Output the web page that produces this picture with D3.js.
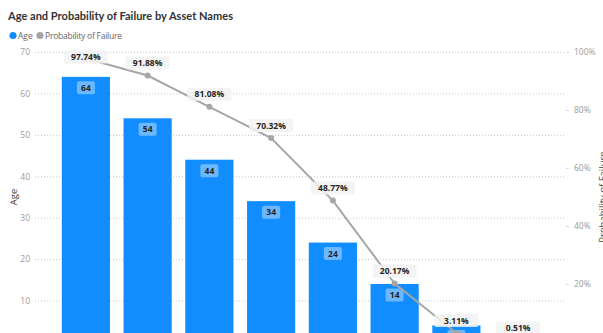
<!DOCTYPE html>
<html>
<head>
<meta charset="utf-8">
<script src="https://cdn.jsdelivr.net/npm/d3@7/dist/d3.min.js"></script>
<style>
  html, body { margin: 0; padding: 0; background: #fff; overflow: hidden; }
  svg { display: block; font-family: "Open Sans", "Noto Sans", sans-serif; }
</style>
</head>
<body>
<svg id="chart" width="603" height="333"></svg>
<script>
// Assets, ordered by age
const assetNames = ["Asset A", "Asset B", "Asset C", "Asset D", "Asset E", "Asset F", "Asset G", "Asset H"];
const ageValues = [64, 54, 44, 34, 24, 14, 4, 0];
const failureProb = [0.9774, 0.9188, 0.8108, 0.7032, 0.4877, 0.2017, 0.0311, 0.0051];
const ageTicks = [10, 20, 30, 40, 50, 60, 70];
const probTicks = [0.2, 0.4, 0.6, 0.8, 1.0];

const svg = d3.select("#chart");
const plot = { left: 35, right: 566, top: 52, bottom: 342 };

const x = d3.scaleBand()
  .domain(assetNames)
  .range([55, 549])
  .paddingInner(0.22)
  .paddingOuter(0.11);

const yAge = d3.scaleLinear().domain([0, 70]).range([plot.bottom, plot.top]);
const yProb = d3.scaleLinear().domain([0, 1]).range([plot.bottom, plot.top]);

// Title and legend
svg.append("text")
  .attr("x", 8).attr("y", 20)
  .attr("font-family", "Lato, sans-serif")
  .attr("font-size", 12).attr("font-weight", 700)
  .attr("fill", "#333")
  .attr("textLength", 225).attr("lengthAdjust", "spacingAndGlyphs")
  .text("Age and Probability of Failure by Asset Names");

const legend = svg.append("g").attr("font-size", 8.5).attr("fill", "#666");
legend.append("circle").attr("cx", 13).attr("cy", 35.5).attr("r", 3.6).attr("fill", "#118DFF");
legend.append("text").attr("x", 18).attr("y", 38.5).text("Age");
legend.append("circle").attr("cx", 40).attr("cy", 35.5).attr("r", 3.6).attr("fill", "#A6A6A6");
legend.append("text").attr("x", 45).attr("y", 38.5).attr("textLength", 77).text("Probability of Failure");

// Left axis with dotted gridlines
const leftAxis = svg.append("g")
  .attr("transform", `translate(${plot.left},0)`)
  .call(d3.axisLeft(yAge).tickValues(ageTicks).tickSize(-(plot.right - plot.left)).tickPadding(5));
leftAxis.select(".domain").remove();
leftAxis.selectAll(".tick line")
  .attr("stroke", "#c8c8c8")
  .attr("stroke-dasharray", "1,2");
leftAxis.selectAll(".tick text")
  .attr("fill", "#9a9a9a")
  .attr("font-size", 8.5)
  .attr("font-family", "\"Open Sans\", sans-serif");

// Right axis
const rightAxis = svg.append("g")
  .attr("transform", `translate(${plot.right},0)`)
  .call(d3.axisRight(yProb).tickValues(probTicks).tickSize(3).tickPadding(5).tickFormat(d3.format(".0%")));
rightAxis.select(".domain").remove();
rightAxis.selectAll(".tick line").attr("stroke", "#dcdcdc");
rightAxis.selectAll(".tick text")
  .attr("fill", "#9a9a9a")
  .attr("font-size", 8.5)
  .attr("font-family", "\"Open Sans\", sans-serif");

// Axis titles
svg.append("text")
  .attr("transform", `translate(17,${(plot.top + plot.bottom) / 2}) rotate(-90)`)
  .attr("text-anchor", "middle")
  .attr("font-size", 9.5).attr("fill", "#444")
  .text("Age");
svg.append("text")
  .attr("transform", `translate(606,${(plot.top + plot.bottom) / 2}) rotate(-90)`)
  .attr("text-anchor", "middle")
  .attr("font-size", 9.5).attr("fill", "#444")
  .text("Probability of Failure");

// Bars
svg.append("g").selectAll("rect")
  .data(ageValues)
  .join("rect")
  .attr("x", (d, i) => x(assetNames[i]))
  .attr("y", d => yAge(d))
  .attr("width", x.bandwidth())
  .attr("height", d => yAge(0) - yAge(d))
  .attr("fill", "#118DFF");

// Bar value labels (inside end)
const barLabels = svg.append("g").selectAll("g")
  .data(ageValues)
  .join("g")
  .attr("transform", (d, i) => `translate(${x(assetNames[i]) + x.bandwidth() / 2},${yAge(d) + 11})`);
barLabels.append("rect")
  .attr("x", -9).attr("y", -6.5).attr("width", 18).attr("height", 13).attr("rx", 2)
  .attr("fill", "#ffffff").attr("fill-opacity", 0.38);
barLabels.append("text")
  .attr("text-anchor", "middle").attr("dy", "0.36em")
  .attr("font-size", 8.5).attr("font-weight", 700).attr("fill", "#252423")
  .text(d => d);

// Probability line
const linePts = failureProb.map((p, i) => [x(assetNames[i]) + x.bandwidth() / 2, yProb(p)]);
svg.append("path")
  .attr("d", d3.line()(linePts))
  .attr("fill", "none")
  .attr("stroke", "#A6A6A6")
  .attr("stroke-width", 2);
svg.append("g").selectAll("circle")
  .data(linePts)
  .join("circle")
  .attr("cx", d => d[0]).attr("cy", d => d[1]).attr("r", 3)
  .attr("fill", "#A6A6A6");

// Probability labels
const fmtPct = d3.format(".2%");
const probLabels = svg.append("g").selectAll("g")
  .data(failureProb)
  .join("g")
  .attr("transform", (p, i) => `translate(${linePts[i][0]},${Math.max(linePts[i][1] - 12.5, plot.top + 5)})`);
probLabels.append("rect")
  .attr("x", -22).attr("y", -6.5).attr("width", 44).attr("height", 13).attr("rx", 2)
  .attr("fill", "#f2f2f2").attr("fill-opacity", 0.85);
probLabels.append("text")
  .attr("text-anchor", "middle").attr("dy", "0.36em")
  .attr("font-size", 8.5).attr("font-weight", 700).attr("fill", "#252423")
  .text(p => fmtPct(p));
</script>
</body>
</html>
